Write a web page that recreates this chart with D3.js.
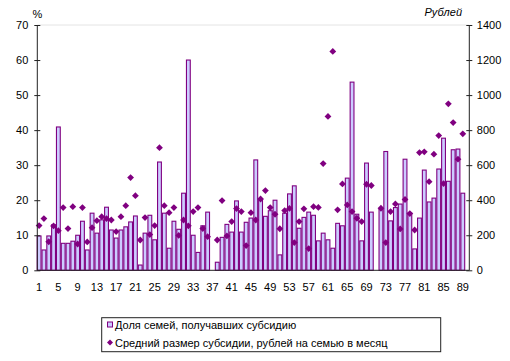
<!DOCTYPE html>
<html><head><meta charset="utf-8">
<script src="https://cdn.jsdelivr.net/npm/d3@7/dist/d3.min.js"></script>
<style>
body{margin:0;background:#fff;}
svg{display:block;font-family:"Liberation Sans",Arial,sans-serif;}
</style></head><body>
<svg id="chart" width="510" height="361"></svg>
<script>
// ---- data ----
const categories = [1,2,3,4,5,6,7,8,9,10,11,12,13,14,15,16,17,18,19,20,21,22,23,24,25,26,27,28,29,30,
  31,32,33,34,35,36,37,38,39,40,41,42,43,44,45,46,47,48,49,50,51,52,53,54,55,56,57,58,59,60,
  61,62,63,64,65,66,67,68,69,70,71,72,73,74,75,76,77,78,79,80,81,82,83,84,85,86,87,88,89];
// share of families receiving subsidies, %
const share = [9.8,5.8,9.8,13,40.9,7.7,7.7,8.3,10,14,5.8,16.3,10.6,14.4,18,11.5,9.2,11.5,12.4,13.8,
  15.5,1.5,10.6,15.7,8.7,30.9,16.3,6.3,14,11.7,22,60,10,5.1,12.7,16.6,null,2.3,9.4,13.1,
  10.9,19.8,10.9,13.7,14.9,31.5,20,15.4,17,20,4.4,16.3,21.8,24.1,12,15.1,16.6,15.7,8.4,10.6,
  8.7,6.3,13.4,12.7,26.3,53.7,16,8.4,30.6,16.6,null,17.4,33.9,14.1,17.9,18.9,31.7,16.3,6.1,14.9,
  28.6,19.5,20.6,28.9,37.7,25.4,34.4,34.6,22];
// average subsidy, roubles per family per month
const subsidy = [255,295,163,253,226,358,238,363,150,358,162,243,283,306,295,287,221,306,369,529,
  426,173,301,204,255,700,369,329,358,199,287,254,335,358,238,192,null,173,398,196,
  278,352,335,141,329,287,407,455,358,320,237,341,353,158,278,351,124,363,359,609,
  878,1249,345,493,373,335,297,278,491,484,null,354,158,335,379,236,404,324,230,672,
  676,506,663,769,495,950,843,634,779];
const xTickLabels = [1,5,9,13,17,21,25,29,33,37,41,45,49,53,57,61,65,69,73,77,81,85,89];
const leftTicks = [0,10,20,30,40,50,60,70];
const rightTicks = [0,200,400,600,800,1000,1200,1400];
const leftTitle = "%";
const rightTitle = "Рублей";
const legendBar = "Доля семей, получавших субсидию";
const legendDot = "Средний размер субсидии, рублей на семью в месяц";

// ---- layout ----
const svg = d3.select("#chart");
const P = {left:36.7, right:465.2, top:25, bottom:270.3, axL:37.3, axR:469.3};
const x = d3.scaleBand().domain(categories).range([P.left, P.right]).padding(0);
const yL = d3.scaleLinear().domain([0,70]).range([P.bottom, P.top]);
const yR = d3.scaleLinear().domain([0,1400]).range([P.bottom, P.top]);
const FS = 11;
const FF = '"Liberation Sans",Arial,sans-serif';

// top border line of plot area
svg.append("line").attr("x1",P.axL).attr("x2",P.axR).attr("y1",yL(70)).attr("y2",yL(70))
  .attr("stroke","#e4e4e4").attr("stroke-width",1);

// bars
svg.append("g").selectAll("rect")
  .data(categories.filter((c,i)=>share[i]!=null))
  .join("rect")
  .attr("x", c=>x(c)+0.5)
  .attr("width", x.bandwidth()-1)
  .attr("y", c=>yL(share[c-1]))
  .attr("height", c=>yL(0)-yL(share[c-1]))
  .attr("fill","#ccccff").attr("stroke","#800080").attr("stroke-width",1.1);

// markers
const diamond = {draw(ctx,size){const r=Math.sqrt(size/2);ctx.moveTo(0,-r);ctx.lineTo(r,0);ctx.lineTo(0,r);ctx.lineTo(-r,0);ctx.closePath();}};
const sym = d3.symbol().type(diamond).size(2*3.4*3.4);
svg.append("g").selectAll("path")
  .data(categories.filter((c,i)=>subsidy[i]!=null))
  .join("path")
  .attr("transform", c=>`translate(${x(c)+x.bandwidth()/2},${yR(subsidy[c-1])})`)
  .attr("d", sym).attr("fill","#800080");

// left axis
const gL = svg.append("g").attr("transform",`translate(${P.axL},0)`)
  .call(d3.axisLeft(yL).tickValues(leftTicks).tickFormat(d3.format("d")).tickSize(3).tickPadding(6));
gL.select(".domain").remove();
gL.selectAll(".tick line").attr("x1",-3).attr("x2",3).attr("stroke","#222");
gL.append("line").attr("y1",P.top).attr("y2",P.bottom).attr("stroke","#222");
gL.selectAll("text").attr("font-size",FS).attr("fill","#000").attr("font-family",FF);

// right axis
const gR = svg.append("g").attr("transform",`translate(${P.axR},0)`)
  .call(d3.axisRight(yR).tickValues(rightTicks).tickFormat(d3.format("d")).tickSize(3).tickPadding(4.5));
gR.select(".domain").remove();
gR.selectAll(".tick line").attr("x1",-3).attr("x2",3).attr("stroke","#222");
gR.append("line").attr("y1",P.top).attr("y2",P.bottom).attr("stroke","#222");
gR.selectAll("text").attr("font-size",FS).attr("fill","#000").attr("font-family",FF);

// bottom axis
svg.append("line").attr("x1",P.axL).attr("x2",P.axR).attr("y1",P.bottom).attr("y2",P.bottom).attr("stroke","#222");
const gB = svg.append("g").attr("transform",`translate(0,${P.bottom})`)
  .call(d3.axisBottom(x).tickValues(xTickLabels).tickSize(0).tickPadding(13));
gB.select(".domain").remove();
gB.selectAll("text").attr("font-size",FS).attr("fill","#000").attr("font-family",FF);

// axis titles
svg.append("text").attr("x",37.5).attr("y",18).attr("text-anchor","middle").attr("font-size",FS).attr("font-family",FF).text(leftTitle);
svg.append("text").attr("x",462).attr("y",16).attr("text-anchor","end").attr("font-size",FS).attr("font-family",FF)
  .attr("font-style","italic").text(rightTitle);

// legend
const lg = svg.append("g");
lg.append("rect").attr("x",101.7).attr("y",317.7).attr("width",339).attr("height",34)
  .attr("fill","#fff").attr("stroke","#222").attr("stroke-width",1);
lg.append("rect").attr("x",107.5).attr("y",322).attr("width",5).attr("height",5)
  .attr("fill","#ccccff").attr("stroke","#800080").attr("stroke-width",1);
lg.append("text").attr("x",115).attr("y",329).attr("font-size",FS).attr("font-family",FF).text(legendBar);
lg.append("path").attr("transform","translate(110,342.5)").attr("d",d3.symbol().type(diamond).size(2*3*3)).attr("fill","#800080");
lg.append("text").attr("x",115).attr("y",346.5).attr("font-size",FS).attr("font-family",FF).text(legendDot);
</script>
</body></html>
